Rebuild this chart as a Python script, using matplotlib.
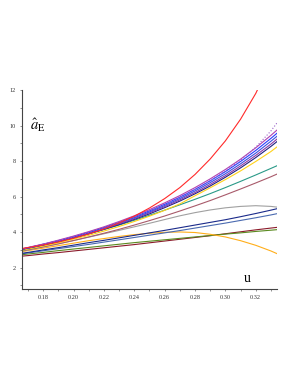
import matplotlib
matplotlib.use("Agg")
import matplotlib.pyplot as plt
from matplotlib.ticker import MultipleLocator, FixedLocator

plt.rcParams['mathtext.fontset'] = 'stix'
plt.rcParams['font.family'] = ['Liberation Serif', 'DejaVu Serif']

u = [0.166, 0.17, 0.18, 0.19, 0.20, 0.21, 0.22, 0.23, 0.24, 0.25,
     0.26, 0.27, 0.28, 0.29, 0.30, 0.31, 0.32, 0.33, 0.334]
u_red = [0.166, 0.17, 0.18, 0.19, 0.20, 0.21, 0.22, 0.23, 0.24, 0.25,
         0.26, 0.27, 0.28, 0.29, 0.30, 0.31, 0.32, 0.3215]

red = [3.08, 3.13, 3.28, 3.45, 3.66, 3.90, 4.18, 4.52, 4.90, 5.36,
       5.89, 6.51, 7.25, 8.12, 9.14, 10.36, 11.81, 12.08]
magenta = [3.06, 3.14, 3.33, 3.55, 3.78, 4.03, 4.30, 4.60, 4.92, 5.27,
           5.65, 6.06, 6.51, 7.00, 7.53, 8.11, 8.75, 9.45, 9.75]
purple_dot = [3.05, 3.12, 3.32, 3.52, 3.75, 3.99, 4.26, 4.55, 4.86, 5.20,
              5.57, 5.97, 6.41, 6.90, 7.45, 8.05, 8.78, 9.70, 10.15]
blue1 = [3.05, 3.12, 3.32, 3.52, 3.75, 4.00, 4.26, 4.55, 4.86, 5.20,
         5.57, 5.97, 6.41, 6.89, 7.41, 7.98, 8.60, 9.28, 9.57]
blue2 = [3.05, 3.12, 3.31, 3.51, 3.73, 3.97, 4.23, 4.51, 4.81, 5.14,
         5.50, 5.89, 6.32, 6.79, 7.29, 7.85, 8.45, 9.12, 9.40]
violet = [3.04, 3.11, 3.29, 3.49, 3.71, 3.94, 4.19, 4.47, 4.76, 5.09,
          5.44, 5.82, 6.23, 6.69, 7.18, 7.73, 8.32, 8.96, 9.24]
navy_top = [3.03, 3.10, 3.28, 3.47, 3.68, 3.91, 4.16, 4.43, 4.72, 5.03,
            5.38, 5.75, 6.16, 6.60, 7.09, 7.62, 8.20, 8.83, 9.10]
yellow = [2.98, 3.05, 3.22, 3.40, 3.61, 3.82, 4.06, 4.32, 4.60, 4.90,
          5.23, 5.59, 6.05, 6.50, 6.96, 7.45, 7.98, 8.54, 8.80]
teal = [2.98, 3.05, 3.25, 3.46, 3.68, 3.91, 4.15, 4.40, 4.67, 4.95,
        5.24, 5.54, 5.85, 6.17, 6.51, 6.86, 7.22, 7.59, 7.74]
rosy = [2.95, 3.01, 3.17, 3.34, 3.53, 3.73, 3.94, 4.16, 4.40, 4.65,
        4.91, 5.19, 5.48, 5.78, 6.10, 6.43, 6.77, 7.12, 7.27]
gray = [2.93, 2.99, 3.17, 3.35, 3.53, 3.72, 3.91, 4.10, 4.30, 4.50,
        4.71, 4.92, 5.10, 5.25, 5.37, 5.45, 5.49, 5.45, 5.41]
navy_low = [2.81, 2.86, 3.00, 3.13, 3.27, 3.41, 3.54, 3.68, 3.82, 3.96,
            4.10, 4.25, 4.40, 4.55, 4.70, 4.87, 5.05, 5.24, 5.32]
steel = [2.78, 2.83, 2.95, 3.07, 3.19, 3.31, 3.44, 3.57, 3.70, 3.83,
         3.96, 4.09, 4.23, 4.37, 4.51, 4.66, 4.81, 4.97, 5.04]
orange = [2.90, 2.96, 3.10, 3.24, 3.38, 3.52, 3.64, 3.76, 3.86, 3.94,
          3.99, 4.01, 3.98, 3.88, 3.73, 3.52, 3.26, 2.94, 2.79]
green = [2.73, 2.77, 2.86, 2.96, 3.05, 3.14, 3.23, 3.32, 3.41, 3.49,
         3.57, 3.65, 3.73, 3.81, 3.89, 3.96, 4.04, 4.11, 4.14]
darkred = [2.65, 2.68, 2.77, 2.85, 2.94, 3.03, 3.12, 3.21, 3.30, 3.40,
           3.50, 3.60, 3.70, 3.80, 3.91, 4.02, 4.13, 4.23, 4.27]

series = [
    (darkred, '#8b1a2a', '-'),
    (green, '#5a8a20', '-'),
    (orange, '#ffae1a', '-'),
    (steel, '#4a6ab0', '-'),
    (navy_low, '#1a2a8a', '-'),
    (gray, '#a0a0a0', '-'),
    (rosy, '#a85a6a', '-'),
    (teal, '#2a9a88', '-'),
    (yellow, '#ffd21a', '-'),
    (navy_top, '#202080', '-'),
    (violet, '#8a3aa8', '-'),
    (blue2, '#3a50e0', '-'),
    (blue1, '#2a3aff', '-'),
    (magenta, '#b040b0', '-'),
    (purple_dot, '#9a60c8', ':'),
]

fig = plt.figure(figsize=(2.98, 3.85), dpi=100)
ax = fig.add_axes([0.0738, 0.2494, 0.8557, 0.5166])

for vals, col, ls in series:
    ax.plot(u, vals, color=col, lw=0.8, ls=ls)
ax.plot(u_red, red, color='#ff2a2a', lw=0.8)

ax.set_xlim(0.166, 0.334)
ax.set_ylim(0.8, 12)
for s in ['top', 'right']:
    ax.spines[s].set_visible(False)
for s in ['left', 'bottom']:
    ax.spines[s].set_color('#444444')
    ax.spines[s].set_linewidth(0.8)

ax.xaxis.set_major_locator(FixedLocator([0.18, 0.20, 0.22, 0.24, 0.26, 0.28, 0.30, 0.32]))
ax.xaxis.set_minor_locator(MultipleLocator(0.01))
ax.yaxis.set_major_locator(FixedLocator([2, 4, 6, 8, 10, 12]))
ax.yaxis.set_minor_locator(MultipleLocator(1))
ax.set_xticklabels(['0.18', '0.20', '0.22', '0.24', '0.26', '0.28', '0.30', '0.32'])
ax.tick_params(which='both', length=1.5, width=0.5, color='#666666', labelsize=4.5,
               labelcolor='#333333', pad=3)

ax.text(0.1715, 9.75, r'$\hat{a}_{\mathrm{E}}$', fontsize=10.5, color='black',
        va='baseline')
ax.text(0.3122, 1.18, 'u', fontsize=10, color='black', va='baseline')

fig.savefig('out.png', dpi=100)
